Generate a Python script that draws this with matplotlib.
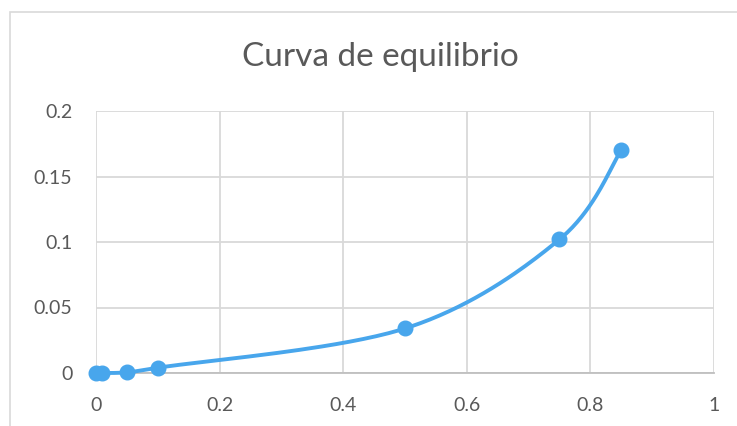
import numpy as np
import matplotlib
matplotlib.use("Agg")
import matplotlib.pyplot as plt
from matplotlib.patches import Rectangle

x_vals = [0.0, 0.01, 0.05, 0.1, 0.5, 0.75, 0.85]
y_vals = [0.0, 0.0, 0.0005, 0.004, 0.034, 0.102, 0.17]
x_ticks = [0, 0.2, 0.4, 0.6, 0.8, 1]
x_tick_labels = ["0", "0.2", "0.4", "0.6", "0.8", "1"]
y_ticks = [0, 0.05, 0.1, 0.15, 0.2]
y_tick_labels = ["0", "0.05", "0.1", "0.15", "0.2"]
title = "Curva de equilibrio"

LINE = "#48A6EC"
GRID = "#D9D9D9"
TEXT = "#595959"

W, H, DPI = 737, 426, 100
fig = plt.figure(figsize=(W / DPI, H / DPI), dpi=DPI)
fig.patch.set_facecolor("white")

# chart frame
fig.patches.append(Rectangle((10 / W, -0.05), 1.2, 1 - 12 / H + 0.05,
                             transform=fig.transFigure, fill=False,
                             edgecolor="#D9D9D9", linewidth=1.2))

left, right, top, bottom = 96, 714, 111, 373
ax = fig.add_axes([left / W, 1 - bottom / H, (right - left) / W, (bottom - top) / H])
ax.set_xlim(0, 1)
ax.set_ylim(0, 0.2)
ax.set_xticks(x_ticks)
ax.set_xticklabels(x_tick_labels)
ax.set_yticks(y_ticks)
ax.set_yticklabels(y_tick_labels)
ax.grid(True, color=GRID, linewidth=1.3)
ax.set_axisbelow(True)
for s in ["top", "right", "left"]:
    ax.spines[s].set_visible(False)
ax.spines["bottom"].set_color("#BFBFBF")
ax.spines["bottom"].set_linewidth(1.3)
ax.tick_params(length=0, labelsize=14, colors=TEXT)
ax.tick_params(axis="x", pad=17)
ax.tick_params(axis="y", pad=17)
for lab in ax.get_xticklabels() + ax.get_yticklabels():
    lab.set_fontfamily("Lato")

# smoothed line: cubic Bezier segments with Catmull-Rom style handles in pixel space
pts = ax.transData.transform(np.column_stack([x_vals, y_vals]))
n = len(pts)
curve = []
for i in range(n - 1):
    p0 = pts[max(i - 1, 0)]
    p1 = pts[i]
    p2 = pts[i + 1]
    p3 = pts[min(i + 2, n - 1)]
    c1 = p1 + (p2 - p0) / 6.0
    c2 = p2 - (p3 - p1) / 6.0
    t = np.linspace(0, 1, 40)[:, None]
    seg = ((1 - t) ** 3) * p1 + 3 * ((1 - t) ** 2) * t * c1 + 3 * (1 - t) * t ** 2 * c2 + t ** 3 * p2
    curve.append(seg if i == 0 else seg[1:])
curve = np.vstack(curve)
curve_data = ax.transData.inverted().transform(curve)
ax.plot(curve_data[:, 0], curve_data[:, 1], color=LINE, linewidth=2.8,
        solid_capstyle="round", clip_on=False, zorder=3)
ax.plot(x_vals, y_vals, linestyle="none", marker="o", markersize=10.5,
        color=LINE, clip_on=False, zorder=4)

fig.text(380 / W, 1 - 57 / H, title, ha="center", va="center",
         fontsize=24, color=TEXT, fontfamily="Lato")

fig.savefig("out.png", dpi=DPI)
